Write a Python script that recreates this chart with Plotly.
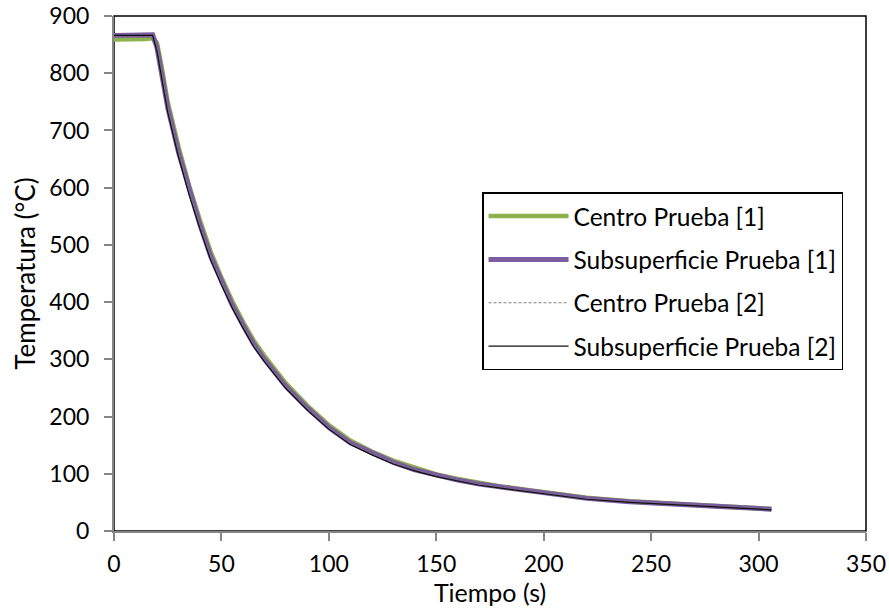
import plotly.graph_objects as go

# Time axis (s)
tiempo = [0, 5, 10, 15, 18, 20, 22, 25, 30, 35, 40, 45, 50, 55, 60, 65, 70, 80, 90,
          100, 110, 120, 130, 140, 150, 160, 170, 180, 190, 200, 210, 220, 240, 260,
          280, 300, 306]

# Temperatures (°C)
centro_1 = [859, 859, 860, 860, 861, 853, 815, 750, 672, 603, 543, 488, 443, 402, 366,
            333, 306, 258, 219, 185, 158, 139, 123, 110, 99, 91, 84, 78, 73, 68, 63, 58,
            52, 47.5, 44, 40, 38.5]
subsuperficie_1 = [866, 866, 867, 867, 867, 845, 805, 740, 662, 595, 535, 480, 436, 395,
                   360, 327, 300, 253, 215, 181, 154, 136, 120, 107, 97, 89, 82, 77, 72,
                   67, 62, 57, 51, 47, 43.5, 39.5, 38]
centro_2 = [862, 862, 863, 863, 864, 846, 806, 740, 662, 594, 534, 479, 435, 394, 359,
            326, 299, 252, 214, 180, 153, 135, 119, 106, 96, 88, 81, 76, 71, 66, 61, 56,
            50.5, 46.5, 43, 39, 37.5]
subsuperficie_2 = [866, 866, 867, 867, 866, 838, 796, 732, 654, 587, 528, 473, 430, 390,
                   355, 322, 296, 249, 211, 178, 151, 133, 117, 105, 95, 87, 80, 75, 70,
                   65, 60, 55.5, 50, 46, 42.5, 38.5, 37]

x_ticks = [0, 50, 100, 150, 200, 250, 300, 350]
y_ticks = [0, 100, 200, 300, 400, 500, 600, 700, 800, 900]

FONT = "Lato"

fig = go.Figure()
fig.add_trace(go.Scatter(x=tiempo, y=centro_1, mode="lines", name="Centro Prueba [1]",
                         line=dict(color="#8fb34c", width=4.5), legendgroup="a"))
fig.add_trace(go.Scatter(x=tiempo, y=subsuperficie_1, mode="lines",
                         name="Subsuperficie Prueba [1]",
                         line=dict(color="#7a5d9e", width=5), legendgroup="b"))
fig.add_trace(go.Scatter(x=tiempo, y=centro_2, mode="lines", name="Centro Prueba [2]",
                         line=dict(color="#7f7f7f", width=1, dash="3px,2px"),
                         legendgroup="c"))
fig.add_trace(go.Scatter(x=tiempo, y=subsuperficie_2, mode="lines",
                         name="Subsuperficie Prueba [2]",
                         line=dict(color="#111111", width=1.2), legendgroup="d"))

axis_common = dict(
    showgrid=False, zeroline=False, showline=True, linecolor="#868686", linewidth=2,
    ticks="outside", ticklen=8, tickwidth=2, tickcolor="#868686",
    tickfont=dict(family=FONT, size=23, color="black"), automargin=False,
)

fig.update_layout(
    width=889, height=609,
    margin=dict(l=114, r=23, t=16, b=78),
    paper_bgcolor="white", plot_bgcolor="white",
    font=dict(family=FONT, color="black"),
    xaxis=dict(range=[0, 350], tickvals=x_ticks, ticklabelstandoff=3, **axis_common,
               title=dict(text="Tiempo (s)", font=dict(family=FONT, size=25), standoff=0)),
    yaxis=dict(range=[0, 900], tickvals=y_ticks, ticklabelstandoff=10, **axis_common,
               title=dict(text="Temperatura (°C)", font=dict(family=FONT, size=26),
                          standoff=6)),
    legend=dict(x=0.4894, y=0.658, xanchor="left", yanchor="top",
                bgcolor="white", bordercolor="black", borderwidth=1.5,
                font=dict(family=FONT, size=24.5), tracegroupgap=8.5,
                itemwidth=80),
    showlegend=True,
    shapes=[dict(type="rect", xref="paper", yref="paper", x0=0, x1=1, y0=0, y1=1,
                 line=dict(color="black", width=1.5), layer="below")],
)

fig.write_html("out.html")
